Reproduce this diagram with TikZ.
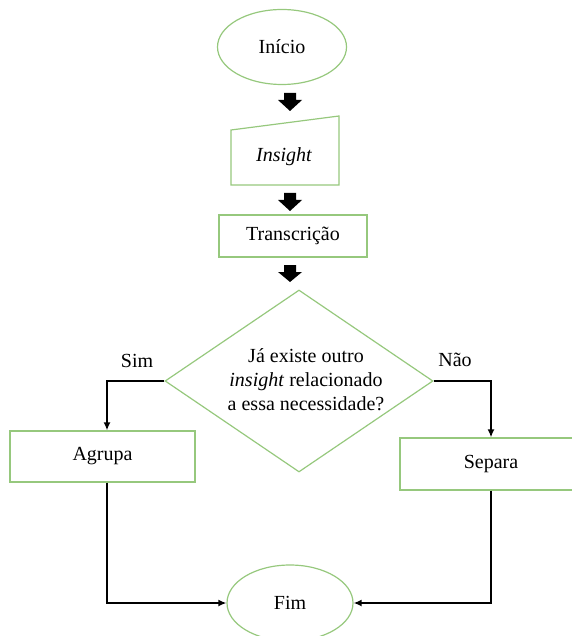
\documentclass[tikz,border=0pt]{standalone}
\usepackage{fontspec}
\setmainfont{Liberation Serif}
\usetikzlibrary{shapes.geometric,arrows.meta}
\definecolor{boxgreen}{RGB}{150,200,125}
\begin{document}
\begin{tikzpicture}[x=1pt,y=-1pt,
  every node/.style={font=\fontsize{20}{24}\selectfont, text=black},
  shapeline/.style={draw=boxgreen, line width=1.2pt},
  term/.style={shapeline, ellipse, minimum width=129, minimum height=75, inner sep=0},
  box/.style={shapeline, rectangle, inner sep=0},
  conn/.style={draw=black, line width=1.6pt, -{Latex[length=8pt,width=7pt]}},
  blockarrow/.style={fill=black}
]
\useasboundingbox (0,0) rectangle (571,636);

\node[term] (inicio) at (282,47) {Início};

\draw[shapeline] (231,130) -- (339,116) -- (339,185) -- (231,185) -- cycle;
\node (insight) at (284,157) {\itshape Insight};

\node[box, minimum width=148, minimum height=42] (transc) at (293,236) {Transcrição};

\fill[blockarrow] (284,93) -- (296,93) -- (296,100) -- (302,100) -- (290,111) -- (278,100) -- (284,100) -- cycle;
\fill[blockarrow] (284,193) -- (296,193) -- (296,200) -- (302,200) -- (290,211) -- (278,200) -- (284,200) -- cycle;
\fill[blockarrow] (284,265) -- (296,265) -- (296,272) -- (302,272) -- (290,282) -- (278,272) -- (284,272) -- cycle;

\node[shapeline, diamond, minimum width=268, minimum height=182, inner sep=0] (dec) at (299,381) {};
\node[align=center, inner sep=0] (dectext) at (306,380) {Já existe outro\\\textit{insight} relacionado\\a essa necessidade?};

\node[box, minimum width=185, minimum height=51] (agrupa) at (102.5,456.5) {Agrupa};
\node[box, minimum width=182, minimum height=52] (separa) at (491,464) {Separa};
\node[term, minimum width=126, minimum height=76] (fim) at (290,603) {Fim};

\node (sim) at (137,361) {Sim};
\node (nao) at (455,360) {Não};

\draw[conn] (dec.west) -| ([xshift=4.5pt]agrupa.north);
\draw[conn] (dec.east) -| (separa.north);
\draw[conn] ([xshift=4.5pt]agrupa.south) |- (fim.west);
\draw[conn] (separa.south) |- (fim.east);
\end{tikzpicture}
\end{document}
